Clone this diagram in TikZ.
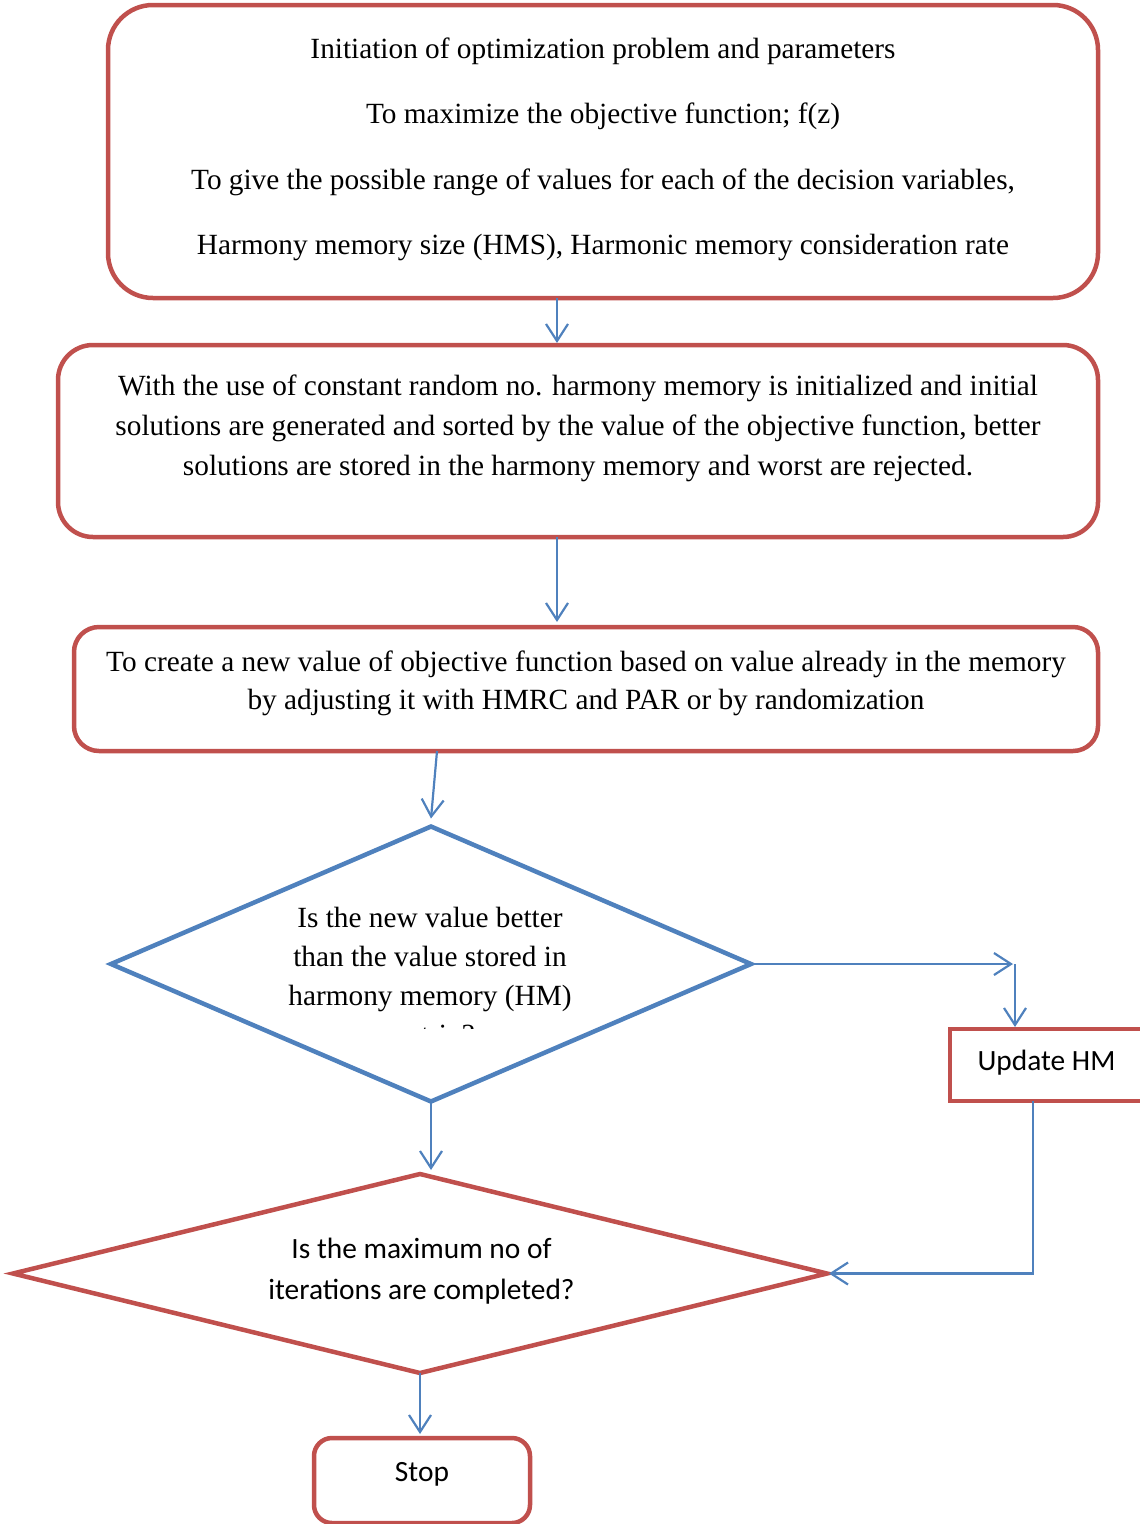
\documentclass[tikz,border=0pt]{standalone}
\usepackage{fontspec}
\setmainfont{Liberation Serif}
\newfontfamily\calfont{Carlito}
\usetikzlibrary{arrows.meta,shapes.geometric,calc}
\definecolor{ored}{HTML}{C0504D}
\definecolor{oblue}{HTML}{4F81BD}
\begin{document}
\begin{tikzpicture}[x=1pt,y=-1pt,
  box/.style={draw=ored, line width=4.5pt, rectangle, inner sep=0pt, outer sep=0pt},
  conn/.style={draw=oblue, line width=2.2pt, -{Straight Barb[length=17pt,width=22pt]}},
  tx/.style={align=center, inner sep=0pt, font=\fontsize{29.3}{40}\selectfont},
  cx/.style={align=center, inner sep=0pt, font=\calfont\fontsize{29.4}{41}\selectfont}]
\useasboundingbox (0,0) rectangle (1140,1524);

% boxes
\node[box, rounded corners=45pt, minimum width=990pt, minimum height=293pt] (b1) at (603,151.5) {};
\node[box, rounded corners=35pt, minimum width=1040pt, minimum height=192pt] (b2) at (578,441) {};
\node[box, rounded corners=25pt, minimum width=1024pt, minimum height=124pt] (b3) at (586,689) {};
\node[diamond, draw=oblue, line width=4.5pt, inner sep=0pt, outer sep=0pt, minimum width=640pt, minimum height=275pt] (d1) at (431,964) {};
\node[box, minimum width=195pt, minimum height=72pt] (u) at (1047.5,1065) {};
\node[diamond, draw=ored, line width=4.5pt, inner sep=0pt, outer sep=0pt, minimum width=814pt, minimum height=199pt] (d2) at (420,1273.5) {};
\node[box, rounded corners=18pt, minimum width=216pt, minimum height=85pt] (s) at (422,1480.5) {};

% texts
\node[tx, font=\fontsize{29.3}{65.5}\selectfont] (t1) at (603,149.5) {Initiation of optimization problem and parameters\\To maximize the objective function; f(z)\\To give the possible range of values for each of the decision variables,\\Harmony memory size (HMS), Harmonic memory consideration rate};
\node[tx] (t2) at (578,428) {With the use of constant random no. harmony memory is initialized and initial\\solutions are generated and sorted by the value of the objective function, better\\solutions are stored in the harmony memory and worst are rejected.};
\node[tx, font=\fontsize{29.3}{38.5}\selectfont] (t3) at (586,683.5) {To create a new value of objective function based on value already in the memory\\by adjusting it with HMRC and PAR or by randomization};
\begin{scope}
\clip (0,0) rectangle (1140,1028);
\node[tx, font=\fontsize{29.3}{39}\selectfont] (t4) at (430,976.5) {Is the new value better\\than the value stored in\\harmony memory (HM)\\matrix?};
\end{scope}
\node[cx] (t5) at (421.5,1271.5) {Is the maximum no of\\iterations are completed?};
\node[cx] (t6) at (1046.5,1063) {Update HM};
\node[cx] (t7) at (422,1474) {Stop};

% helper coordinates
\coordinate (x557) at (557,0);
\coordinate (x437) at (437,0);
\coordinate (x1015) at (1015,0);
\coordinate (c1) at (d1.east -| x1015);
\coordinate (x1033) at (1033,0);

% connectors
\draw[conn] (b1.south -| x557) -- ([yshift=2pt]b2.north -| x557);
\draw[conn] (b2.south -| x557) -- ([yshift=5pt]b3.north -| x557);
\draw[conn] (b3.south -| x437) -- ([yshift=8pt]d1.north);
\draw[conn] (d1.east) -- ([xshift=-2pt]c1);
\draw[conn] (c1) -- ([yshift=2pt]u.north -| c1);
\draw[conn] (d1.south) -- ([yshift=4pt]d2.north -| d1.south);
\draw[conn] (u.south -| x1033) |- ([xshift=2pt]d2.east);
\draw[conn] (d2.south) -- ([yshift=4pt]s.north -| d2.south);
\end{tikzpicture}
\end{document}
